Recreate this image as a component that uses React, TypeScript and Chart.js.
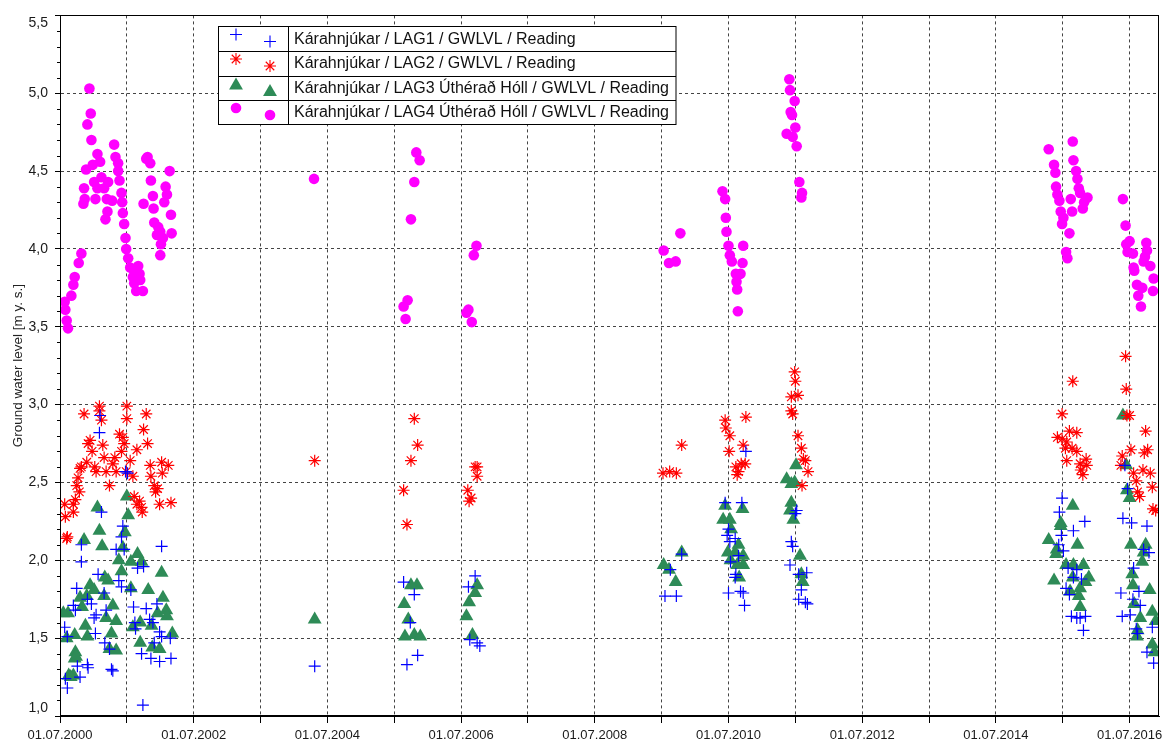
import React, { useEffect, useRef } from "react";
import { Chart, registerables } from "chart.js";

Chart.register(...registerables);

const seriesLabels = [
  "Kárahnjúkar / LAG1 / GWLVL / Reading",
  "Kárahnjúkar / LAG2 / GWLVL / Reading",
  "Kárahnjúkar / LAG3 Úthérað Hóll / GWLVL / Reading",
  "Kárahnjúkar / LAG4 Úthérað Hóll / GWLVL / Reading",
];

const yAxisTitle = "Ground water level [m y. s.]";

// x = decimal year, y = ground water level
const lag1Points: [number, number][] = [
  [2001.10, 2.93], [2001.09, 2.82], [2001.48, 2.57], [2001.51, 2.56], [2001.12, 2.31],
  [2001.44, 2.22], [2001.42, 2.15], [2001.34, 2.07], [2001.46, 2.07], [2000.82, 2.10],
  [2002.02, 2.09], [2000.82, 1.99], [2001.66, 1.95], [2001.75, 1.96], [2001.07, 1.91],
  [2001.38, 1.87], [2001.42, 1.83], [2000.75, 1.82], [2001.16, 1.79], [2001.56, 1.81],
  [2000.91, 1.75], [2000.97, 1.72], [2000.70, 1.71], [2000.73, 1.68], [2001.04, 1.65],
  [2001.01, 1.63], [2001.60, 1.70], [2001.79, 1.69], [2001.95, 1.72], [2001.19, 1.68],
  [2001.84, 1.62], [2001.89, 1.60], [2001.62, 1.60], [2000.57, 1.57], [2001.63, 1.56],
  [2001.03, 1.53], [2000.61, 1.51], [2001.99, 1.54], [2002.02, 1.51], [2001.91, 1.47],
  [2002.15, 1.50], [2001.17, 1.47], [2001.24, 1.43], [2001.72, 1.40], [2001.86, 1.37],
  [2001.99, 1.35], [2002.16, 1.37], [2000.91, 1.33], [2000.92, 1.31], [2001.27, 1.30],
  [2001.29, 1.29], [2000.76, 1.32], [2000.80, 1.25], [2000.58, 1.24], [2000.61, 1.18],
  [2001.74, 1.07],
  [2004.31, 1.32],
  [2005.64, 1.86], [2005.80, 1.78], [2005.74, 1.60], [2005.85, 1.39], [2005.69, 1.33],
  [2006.71, 1.90], [2006.61, 1.83], [2006.63, 1.49], [2006.74, 1.47], [2006.78, 1.45],
  [2010.45, 2.37], [2010.70, 2.37], [2010.76, 2.70], [2010.50, 2.20], [2010.48, 2.16],
  [2010.60, 2.14], [2010.52, 2.12], [2010.65, 2.03], [2010.53, 1.99], [2010.61, 1.91],
  [2010.60, 1.89], [2010.50, 1.79], [2010.68, 1.80], [2010.72, 1.79], [2010.74, 1.71],
  [2009.80, 2.04], [2009.63, 1.94], [2009.55, 1.77], [2009.72, 1.77], [2011.52, 2.32],
  [2011.50, 2.30], [2011.44, 2.12], [2011.46, 2.09], [2011.42, 1.97], [2011.55, 1.91],
  [2011.67, 1.92], [2011.59, 1.81], [2011.55, 1.75], [2011.65, 1.73], [2011.68, 1.72],
  [2016.43, 2.61], [2015.49, 2.40], [2015.45, 2.31], [2015.83, 2.25], [2015.66, 2.19],
  [2015.48, 2.16], [2015.44, 2.10], [2015.51, 2.06], [2016.47, 2.46], [2016.40, 2.27],
  [2016.53, 2.24], [2016.76, 2.22], [2016.71, 2.07], [2016.79, 2.05], [2015.58, 1.95],
  [2015.71, 1.94], [2015.66, 1.89], [2015.78, 1.88], [2015.55, 1.82], [2015.60, 1.78],
  [2016.56, 1.95], [2016.37, 1.79], [2016.64, 1.80], [2016.55, 1.75], [2016.66, 1.71],
  [2016.39, 1.64], [2016.51, 1.65], [2015.63, 1.64], [2015.71, 1.63], [2015.76, 1.63],
  [2015.84, 1.64], [2015.81, 1.55], [2016.60, 1.56], [2016.62, 1.53], [2016.84, 1.57],
  [2016.76, 1.41], [2016.86, 1.34],
];

const lag2Points: [number, number][] = [
  [2001.09, 2.99], [2001.09, 2.96], [2000.86, 2.94], [2001.12, 2.90], [2001.50, 2.99],
  [2001.50, 2.91], [2001.79, 2.94], [2001.75, 2.84], [2001.81, 2.75], [2001.39, 2.81],
  [2001.44, 2.79], [2001.46, 2.75], [2001.65, 2.71], [2000.95, 2.77], [2000.92, 2.75],
  [2001.14, 2.74], [2000.98, 2.70], [2001.42, 2.70], [2001.16, 2.66], [2001.32, 2.66],
  [2001.55, 2.64], [2000.90, 2.63], [2000.82, 2.60], [2000.80, 2.59], [2001.02, 2.60],
  [2001.04, 2.57], [2001.19, 2.57], [2001.34, 2.57], [2001.29, 2.62], [2001.49, 2.57],
  [2001.59, 2.54], [2001.85, 2.61], [2002.02, 2.63], [2002.12, 2.61], [2002.03, 2.56],
  [2001.86, 2.54], [2000.77, 2.53], [2000.75, 2.48], [2001.24, 2.48], [2000.79, 2.44],
  [2001.91, 2.48], [2001.96, 2.46], [2001.93, 2.44], [2001.61, 2.41], [2001.69, 2.38],
  [2001.72, 2.34], [2001.73, 2.31], [2001.65, 2.36], [2001.99, 2.36], [2002.16, 2.37],
  [2000.73, 2.39], [2000.70, 2.36], [2000.57, 2.36], [2000.70, 2.31], [2000.58, 2.28],
  [2000.61, 2.15], [2000.60, 2.14],
  [2004.31, 2.64],
  [2005.80, 2.91], [2005.85, 2.74], [2005.75, 2.64], [2005.64, 2.45], [2005.69, 2.23],
  [2006.71, 2.60], [2006.74, 2.60], [2006.74, 2.54], [2006.60, 2.45], [2006.65, 2.40],
  [2006.62, 2.38],
  [2011.49, 3.21], [2011.50, 3.15], [2011.54, 3.06], [2011.44, 3.05], [2011.44, 2.96],
  [2011.46, 2.94], [2011.54, 2.80], [2011.59, 2.72], [2011.62, 2.65], [2011.65, 2.64],
  [2011.69, 2.57], [2011.60, 2.48], [2010.45, 2.90], [2010.46, 2.85], [2010.52, 2.80],
  [2010.76, 2.92], [2009.80, 2.74], [2010.51, 2.70], [2010.72, 2.74], [2010.69, 2.62],
  [2010.61, 2.60], [2010.65, 2.57], [2010.75, 2.62], [2010.63, 2.55], [2009.52, 2.56],
  [2009.62, 2.57], [2009.72, 2.56],
  [2016.44, 3.31], [2015.65, 3.15], [2016.45, 3.10], [2015.49, 2.94], [2016.50, 2.93],
  [2016.46, 2.93], [2015.60, 2.83], [2015.71, 2.82], [2016.74, 2.83], [2015.42, 2.79],
  [2015.49, 2.78], [2015.56, 2.76], [2016.77, 2.71], [2016.72, 2.69], [2016.52, 2.71],
  [2015.54, 2.72], [2015.64, 2.72], [2015.71, 2.70], [2016.39, 2.67], [2015.85, 2.65],
  [2015.56, 2.64], [2015.76, 2.62], [2015.86, 2.61], [2016.37, 2.61], [2015.77, 2.58],
  [2015.80, 2.55], [2016.56, 2.56], [2016.70, 2.58], [2016.81, 2.56], [2016.60, 2.51],
  [2016.84, 2.47], [2016.62, 2.44], [2016.65, 2.41], [2016.85, 2.33], [2016.89, 2.32],
];

const lag3Points: [number, number][] = [
  [2001.50, 2.41], [2001.06, 2.34], [2001.52, 2.29], [2001.09, 2.19], [2001.47, 2.18],
  [2000.86, 2.13], [2001.13, 2.09], [2001.44, 2.08], [2001.66, 2.04], [2001.38, 2.00],
  [2001.56, 1.99], [2001.72, 1.99], [2002.02, 1.92], [2001.42, 1.93], [2001.17, 1.89],
  [2001.22, 1.87], [2000.95, 1.84], [2001.01, 1.81], [2001.56, 1.82], [2001.82, 1.81],
  [2000.90, 1.77], [2000.80, 1.76], [2001.16, 1.77], [2002.04, 1.76], [2001.29, 1.71],
  [2000.83, 1.70], [2002.09, 1.68], [2001.96, 1.66], [2002.10, 1.64], [2000.62, 1.66],
  [2001.19, 1.63], [2001.34, 1.61], [2001.59, 1.57], [2001.87, 1.58], [2000.88, 1.58],
  [2001.70, 1.60], [2002.18, 1.53], [2000.72, 1.52], [2000.91, 1.51], [2001.27, 1.53],
  [2001.70, 1.47], [2001.24, 1.43], [2001.34, 1.42], [2001.99, 1.43], [2001.88, 1.44],
  [2000.73, 1.41], [2000.72, 1.37], [2000.63, 1.26], [2000.70, 1.26], [2000.55, 1.66],
  [2000.60, 1.50], [2000.66, 1.25], [2000.74, 1.38],
  [2004.31, 1.62],
  [2005.75, 1.84], [2005.84, 1.84], [2005.65, 1.72], [2005.71, 1.62], [2005.66, 1.51],
  [2005.80, 1.52], [2005.89, 1.51], [2006.74, 1.84], [2006.71, 1.79], [2006.62, 1.73],
  [2006.58, 1.64], [2006.67, 1.52],
  [2011.51, 2.61], [2011.37, 2.52], [2011.44, 2.49], [2011.49, 2.50], [2011.44, 2.37],
  [2011.42, 2.32], [2011.47, 2.26], [2011.57, 2.03], [2011.59, 1.91], [2011.61, 1.86],
  [2010.45, 2.35], [2010.71, 2.33], [2010.42, 2.26], [2010.52, 2.26], [2010.54, 2.20],
  [2010.65, 2.10], [2010.49, 2.05], [2010.60, 2.05], [2010.72, 2.03], [2010.53, 2.00],
  [2010.63, 1.97], [2010.72, 1.97], [2010.66, 1.89], [2009.80, 2.05], [2009.53, 1.97],
  [2009.61, 1.94], [2009.71, 1.86],
  [2016.40, 2.93], [2016.45, 2.61], [2016.46, 2.45], [2016.50, 2.40], [2015.65, 2.35],
  [2015.47, 2.24], [2015.47, 2.22], [2015.29, 2.13], [2015.72, 2.10], [2015.41, 2.07],
  [2015.40, 2.04], [2016.52, 2.10], [2016.74, 2.10], [2016.71, 2.05], [2016.69, 1.99],
  [2015.55, 1.97], [2015.66, 1.97], [2015.81, 1.97], [2015.37, 1.87], [2015.89, 1.89],
  [2015.65, 1.89], [2015.76, 1.82], [2015.84, 1.86], [2015.61, 1.80], [2015.74, 1.77],
  [2015.76, 1.70], [2016.54, 1.91], [2016.55, 1.84], [2016.80, 1.81], [2016.57, 1.72],
  [2016.84, 1.67], [2016.66, 1.63], [2016.89, 1.61], [2016.62, 1.55], [2016.61, 1.51],
  [2016.84, 1.46], [2016.87, 1.41],
];

const lag4Points: [number, number][] = [
  [2000.94, 5.03], [2000.96, 4.87], [2000.91, 4.80], [2000.97, 4.70], [2001.31, 4.67],
  [2001.06, 4.61], [2001.33, 4.59], [2001.10, 4.56], [2000.99, 4.54], [2001.37, 4.55],
  [2000.89, 4.51], [2001.37, 4.50], [2001.12, 4.46], [2001.01, 4.43], [2001.39, 4.44],
  [2000.86, 4.39], [2001.22, 4.43], [2001.06, 4.39], [2001.16, 4.39], [2001.42, 4.36],
  [2000.87, 4.32], [2001.03, 4.32], [2001.20, 4.32], [2000.85, 4.29], [2001.28, 4.31],
  [2001.43, 4.30], [2001.21, 4.24], [2001.18, 4.19], [2001.44, 4.23], [2001.46, 4.16],
  [2001.48, 4.07], [2001.49, 4.00], [2001.52, 3.94], [2000.82, 3.97], [2000.78, 3.91],
  [2000.72, 3.82], [2000.70, 3.77], [2000.67, 3.70], [2000.57, 3.66], [2000.58, 3.61],
  [2000.60, 3.54], [2000.62, 3.49], [2001.67, 3.89], [2001.61, 3.86], [2001.69, 3.84],
  [2001.59, 3.82], [2001.70, 3.80], [2001.61, 3.78], [2001.74, 3.73], [2001.64, 3.73],
  [2001.55, 3.88], [2001.81, 4.59], [2001.79, 4.58], [2001.85, 4.55], [2002.14, 4.50],
  [2001.86, 4.44], [2002.08, 4.40], [2002.10, 4.35], [2001.89, 4.34], [2002.06, 4.30],
  [2001.75, 4.29], [2001.90, 4.26], [2002.16, 4.22], [2001.91, 4.17], [2001.97, 4.14],
  [2002.00, 4.11], [2001.95, 4.09], [2002.17, 4.10], [2002.04, 4.07], [2002.01, 4.03],
  [2002.00, 3.96],
  [2004.30, 4.45],
  [2005.83, 4.62], [2005.88, 4.57], [2005.80, 4.43], [2005.75, 4.19], [2006.73, 4.02],
  [2006.69, 3.96], [2005.70, 3.67], [2005.64, 3.63], [2005.67, 3.55], [2006.61, 3.61],
  [2006.58, 3.59], [2006.66, 3.53],
  [2011.41, 5.09], [2011.42, 5.02], [2011.49, 4.95], [2011.43, 4.88], [2011.45, 4.86],
  [2011.50, 4.78], [2011.37, 4.74], [2011.46, 4.72], [2011.52, 4.66], [2011.56, 4.43],
  [2011.60, 4.36], [2011.59, 4.33], [2010.41, 4.37], [2010.45, 4.32], [2010.46, 4.20],
  [2010.47, 4.11], [2010.50, 4.02], [2010.52, 3.96], [2010.55, 3.92], [2010.72, 4.02],
  [2010.71, 3.91], [2010.61, 3.84], [2010.68, 3.84], [2010.62, 3.79], [2010.63, 3.74],
  [2010.64, 3.60], [2009.78, 4.10], [2009.53, 3.99], [2009.61, 3.91], [2009.71, 3.92],
  [2015.29, 4.64], [2015.65, 4.69], [2015.66, 4.57], [2015.37, 4.54], [2015.39, 4.49],
  [2015.70, 4.50], [2015.72, 4.45], [2015.40, 4.40], [2015.74, 4.39], [2015.42, 4.35],
  [2015.76, 4.36], [2015.87, 4.33], [2015.45, 4.31], [2015.62, 4.32], [2015.82, 4.30],
  [2015.80, 4.26], [2015.47, 4.24], [2015.64, 4.24], [2015.51, 4.20], [2015.49, 4.16],
  [2015.60, 4.10], [2015.55, 3.98], [2015.57, 3.94], [2016.40, 4.32], [2016.44, 4.15],
  [2016.50, 4.05], [2016.45, 4.03], [2016.47, 3.98], [2016.55, 3.97], [2016.75, 4.04],
  [2016.76, 3.99], [2016.73, 3.95], [2016.71, 3.92], [2016.81, 3.89], [2016.56, 3.88],
  [2016.57, 3.86], [2016.86, 3.81], [2016.61, 3.77], [2016.69, 3.75], [2016.85, 3.73],
  [2016.63, 3.70], [2016.67, 3.63],
];

const seriesColors = ["#0000FF", "#FF0000", "#2E8B57", "#FF00FF"];
const seriesStyles = ["cross", "star", "triangle", "circle"];
const seriesRadii = [6, 6, 8, 5.3];

const xTickYears = [
  2000.5, 2001.5, 2002.5, 2003.5, 2004.5, 2005.5, 2006.5, 2007.5, 2008.5,
  2009.5, 2010.5, 2011.5, 2012.5, 2013.5, 2014.5, 2015.5, 2016.5,
];
const xTickLabels = [
  "01.07.2000", "", "01.07.2002", "", "01.07.2004", "", "01.07.2006", "", "01.07.2008",
  "", "01.07.2010", "", "01.07.2012", "", "01.07.2014", "", "01.07.2016",
];
const xMin = 2000.5;
const xMax = 2016.94;
const yMin = 1.0;
const yMax = 5.5;
const yStep = 0.5;
const yMinorStep = 0.1;

const FONT = "'Liberation Sans', Arial, sans-serif";

function fmtY(v: number) {
  return v.toFixed(1).replace(".", ",");
}

function drawSymbol(ctx: CanvasRenderingContext2D, style: string, x: number, y: number, r: number, color: string) {
  ctx.save();
  ctx.strokeStyle = color;
  ctx.fillStyle = color;
  ctx.lineWidth = 1.1;
  ctx.beginPath();
  if (style === "cross") {
    ctx.moveTo(x - r, y); ctx.lineTo(x + r, y);
    ctx.moveTo(x, y - r); ctx.lineTo(x, y + r);
    ctx.stroke();
  } else if (style === "star") {
    const d = r * Math.SQRT1_2;
    ctx.moveTo(x - r, y); ctx.lineTo(x + r, y);
    ctx.moveTo(x, y - r); ctx.lineTo(x, y + r);
    ctx.moveTo(x - d, y - d); ctx.lineTo(x + d, y + d);
    ctx.moveTo(x - d, y + d); ctx.lineTo(x + d, y - d);
    ctx.stroke();
  } else if (style === "triangle") {
    let rad = 0;
    ctx.moveTo(x + Math.sin(rad) * r, y - Math.cos(rad) * r);
    rad += (2 * Math.PI) / 3;
    ctx.lineTo(x + Math.sin(rad) * r, y - Math.cos(rad) * r);
    rad += (2 * Math.PI) / 3;
    ctx.lineTo(x + Math.sin(rad) * r, y - Math.cos(rad) * r);
    ctx.closePath();
    ctx.fill();
  } else {
    ctx.arc(x, y, r, 0, Math.PI * 2);
    ctx.fill();
  }
  ctx.restore();
}

const decorPlugin = {
  id: "decor",
  afterDraw(chart: any) {
    const { ctx, chartArea: a, scales } = chart;
    const ys = scales.y;
    ctx.save();
    // minor y ticks
    ctx.strokeStyle = "#000";
    ctx.lineWidth = 1;
    ctx.beginPath();
    const n = Math.round((yMax - yMin) / yMinorStep);
    for (let i = 1; i < n; i++) {
      const v = yMin + i * yMinorStep;
      if (i % 5 === 0) continue;
      const py = Math.round(ys.getPixelForValue(v)) + 0.5;
      ctx.moveTo(a.left - 3, py);
      ctx.lineTo(a.left, py);
    }
    ctx.stroke();
    // frame
    const l = Math.round(a.left) + 0.5;
    const t = Math.round(a.top) + 0.5;
    const r = Math.round(a.right) - 0.5;
    const b = Math.round(a.bottom) - 0.5;
    ctx.strokeRect(l, t, r - l, b - t);
    // edge y labels shifted inside
    ctx.fillStyle = "#1a1a1a";
    ctx.font = `14px ${FONT}`;
    ctx.textAlign = "right";
    ctx.textBaseline = "middle";
    ctx.fillText(fmtY(yMax), a.left - 12, a.top + 8);
    ctx.fillText(fmtY(yMin), a.left - 12, a.bottom - 8);

    // legend
    const lx = 218.5, ly = 26.5, lw = 457.5, rowH = 24.5, colX = 288.5;
    ctx.fillStyle = "#fff";
    ctx.fillRect(lx, ly, lw, rowH * 4);
    ctx.strokeStyle = "#000";
    ctx.lineWidth = 1;
    ctx.strokeRect(lx, ly, lw, rowH * 4);
    ctx.beginPath();
    for (let i = 1; i < 4; i++) {
      const yy = Math.round(ly + rowH * i) + 0.5;
      ctx.moveTo(lx, yy);
      ctx.lineTo(lx + lw, yy);
    }
    ctx.moveTo(colX, ly);
    ctx.lineTo(colX, ly + rowH * 4);
    ctx.stroke();
    ctx.font = `16px ${FONT}`;
    ctx.textAlign = "left";
    ctx.textBaseline = "middle";
    for (let i = 0; i < 4; i++) {
      const top = ly + rowH * i;
      const st = seriesStyles[i];
      const rr = seriesRadii[i];
      drawSymbol(ctx, st, 236, top + (st === "triangle" ? 10 : 8), rr, seriesColors[i]);
      drawSymbol(ctx, st, 270, top + (st === "triangle" ? 16.5 : 15), rr, seriesColors[i]);
      ctx.fillStyle = "#111";
      ctx.fillText(seriesLabels[i], 294, top + 13);
    }
    ctx.restore();
  },
};

export default function App() {
  const canvasRef = useRef<HTMLCanvasElement | null>(null);

  useEffect(() => {
    if (!canvasRef.current) return;
    const all = [lag1Points, lag2Points, lag3Points, lag4Points];
    const chart = new Chart(canvasRef.current, {
      type: "scatter",
      data: {
        datasets: all.map((pts, i) => ({
          label: seriesLabels[i],
          data: pts.map(([x, y]) => ({ x, y })),
          pointStyle: seriesStyles[i] as any,
          pointRadius: seriesRadii[i],
          pointHoverRadius: seriesRadii[i],
          borderColor: seriesColors[i],
          backgroundColor: seriesColors[i],
          pointBorderWidth: seriesStyles[i] === "cross" || seriesStyles[i] === "star" ? 1.2 : 0,
          showLine: false,
        })),
      },
      options: {
        responsive: false,
        animation: false,
        events: [],
        layout: { padding: { top: 10, right: 11, left: 0, bottom: 0 } },
        plugins: { legend: { display: false }, tooltip: { enabled: false } },
        scales: {
          x: {
            type: "linear",
            min: xMin,
            max: xMax,
            afterBuildTicks: (scale: any) => {
              scale.ticks = xTickYears.map((v) => ({ value: v }));
            },
            afterFit: (scale: any) => {
              scale.height = 29;
            },
            ticks: {
              autoSkip: false,
              maxRotation: 0,
              minRotation: 0,
              padding: 5,
              color: "#1a1a1a",
              font: { family: FONT, size: 13 },
              callback: (value: any) => {
                const idx = xTickYears.findIndex((t) => Math.abs(t - Number(value)) < 1e-6);
                return idx >= 0 ? xTickLabels[idx] : "";
              },
            },
            grid: {
              color: "#444",
              lineWidth: 1,
              drawTicks: true,
              tickLength: 7,
              tickColor: "#000",
            },
            border: { display: true, color: "#000", width: 1, dash: [3, 3] },
          },
          y: {
            type: "linear",
            min: yMin,
            max: yMax,
            afterFit: (scale: any) => {
              scale.width = 60;
            },
            ticks: {
              stepSize: yStep,
              padding: 7,
              color: "#1a1a1a",
              font: { family: FONT, size: 14 },
              callback: (value: any) => {
                const v = Number(value);
                if (Math.abs(v - yMin) < 1e-6 || Math.abs(v - yMax) < 1e-6) return "";
                return fmtY(v);
              },
            },
            grid: {
              color: "#444",
              lineWidth: 1,
              drawTicks: true,
              tickLength: 5,
              tickColor: "#000",
            },
            border: { display: true, color: "#000", width: 1, dash: [3, 3] },
            title: {
              display: true,
              text: yAxisTitle,
              color: "#222",
              font: { family: FONT, size: 13.5 },
              padding: { top: 10, bottom: 0 },
            },
          },
        },
      },
      plugins: [decorPlugin],
    });
    return () => chart.destroy();
  }, []);

  return (
    <div style={{ position: "absolute", left: 0, top: 0, width: 1170, height: 745, background: "#fff" }}>
      <canvas ref={canvasRef} width={1170} height={745} style={{ display: "block" }} />
    </div>
  );
}
